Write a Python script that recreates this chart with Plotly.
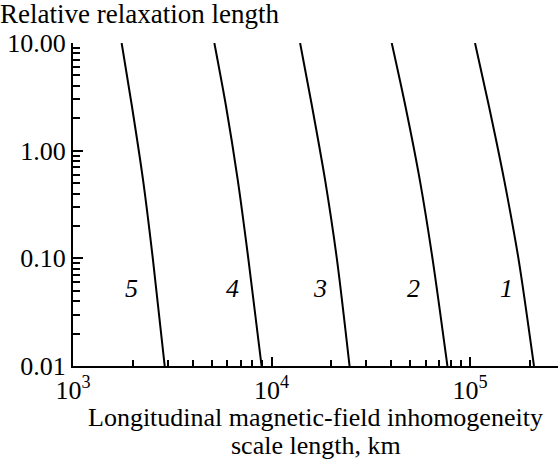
import math
import plotly.graph_objects as go

# Relative relaxation length (y) against longitudinal inhomogeneity scale length (x, km)
rel_length = [10.0, 2.64, 0.532, 0.0964, 0.01]

scale_km_1 = [105900, 124200, 148600, 175800, 209900]
scale_km_2 = [40320, 47150, 55850, 64860, 76910]
scale_km_3 = [13930, 15960, 18620, 21380, 24720]
scale_km_4 = [5152, 5888, 6761, 7656, 8913]
scale_km_5 = [1758, 1977, 2254, 2529, 2897]

curve_names = ["1", "2", "3", "4", "5"]
curve_x = [scale_km_1, scale_km_2, scale_km_3, scale_km_4, scale_km_5]
label_x = [153100, 51760, 17540, 6346, 1977]
label_y = [0.053, 0.053, 0.053, 0.053, 0.053]

y_tickvals = [0.01, 0.1, 1, 10]
y_ticktext = ["0.01", "0.10", "1.00", "10.00"]
x_tickvals = [1e3, 1e4, 1e5]
x_ticktext = ["10<sup>3</sup>", "10<sup>4</sup>", "10<sup>5</sup>"]
x_title_lines = ["Longitudinal magnetic-field inhomogeneity", "scale length, km"]

FONT = "Liberation Serif"
FS = 26

fig = go.Figure()
for name, xs in zip(curve_names, curve_x):
    fig.add_trace(go.Scatter(
        x=xs, y=rel_length, mode="lines", name=name,
        line=dict(color="black", width=2, shape="spline", smoothing=0.8),
        showlegend=False,
    ))

# italic curve numbers
for name, lx, ly in zip(curve_names, label_x, label_y):
    fig.add_annotation(
        x=math.log10(lx), y=math.log10(ly), xref="x", yref="y",
        text=f"<i>{name}</i>", showarrow=False,
        font=dict(family=FONT, size=FS, color="black"),
    )

# two-line x-axis title, set tighter than the built-in title spacing
for line, yp in zip(x_title_lines, [-0.158, -0.245]):
    fig.add_annotation(
        x=0.5, y=yp, xref="paper", yref="paper",
        text=line, showarrow=False, xanchor="center", yanchor="middle",
        font=dict(family=FONT, size=FS, color="black"),
    )

x_minor = [m * 10 ** d for d in (3, 4, 5) for m in range(2, 10)]
y_minor = [m * 10 ** d for d in (-2, -1, 0) for m in range(2, 10)]

fig.update_xaxes(
    type="log", range=[3, 5.443],
    showgrid=False, zeroline=False,
    showline=True, linecolor="black", linewidth=2,
    tickmode="array", tickvals=x_tickvals, ticktext=x_ticktext,
    ticks="inside", ticklen=9, tickwidth=1.5, tickcolor="black",
    minor=dict(tickmode="array", tickvals=x_minor, ticks="inside",
               ticklen=6, tickwidth=1.5, tickcolor="black", showgrid=False),
    tickfont=dict(family=FONT, size=FS, color="black"),
)
fig.update_yaxes(
    type="log", range=[-2, 1],
    showgrid=False, zeroline=False,
    showline=True, linecolor="black", linewidth=2,
    tickmode="array", tickvals=y_tickvals, ticktext=y_ticktext,
    ticks="inside", ticklen=10, tickwidth=1.5, tickcolor="black",
    minor=dict(tickmode="array", tickvals=y_minor, ticks="inside",
               ticklen=7, tickwidth=1.5, tickcolor="black", showgrid=False),
    tickfont=dict(family=FONT, size=FS, color="black"),
)

fig.update_layout(
    width=558, height=460,
    margin=dict(l=73, r=0, t=43, b=94),
    paper_bgcolor="white", plot_bgcolor="white",
    font=dict(family=FONT, size=FS, color="black"),
    title=dict(text="Relative relaxation length", x=0.0, xref="container",
               xanchor="left", y=1 - 14 / 460, yref="container", yanchor="middle",
               font=dict(family=FONT, size=FS + 1, color="black")),
)

fig.write_html("out.html")
